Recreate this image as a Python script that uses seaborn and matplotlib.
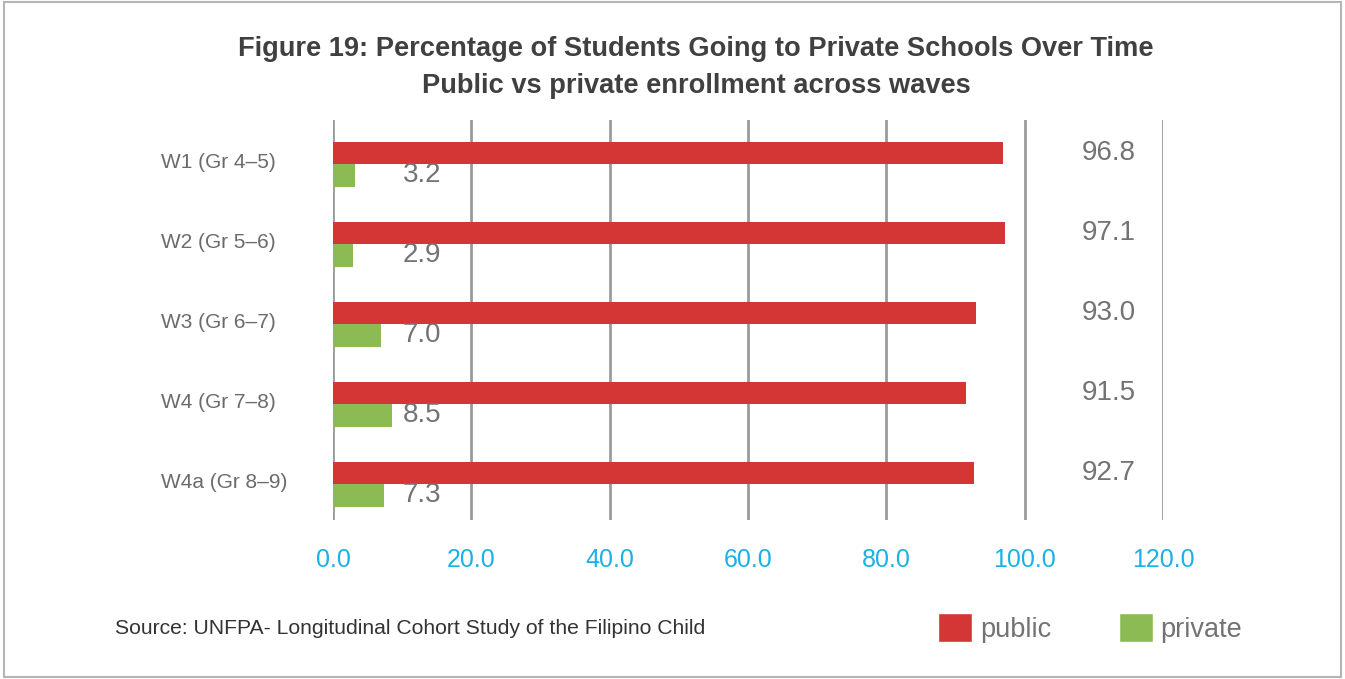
import matplotlib
matplotlib.use("Agg")
import matplotlib.pyplot as plt
from matplotlib.patches import Patch, Rectangle
from matplotlib.transforms import ScaledTranslation
import pandas as pd
import seaborn as sns

waves = ['W1 (Gr 4–5)', 'W2 (Gr 5–6)', 'W3 (Gr 6–7)', 'W4 (Gr 7–8)', 'W4a (Gr 8–9)']
public = [96.8, 97.1, 93.0, 91.5, 92.7]
private = [3.2, 2.9, 7.0, 8.5, 7.3]
x_ticks = [0, 20, 40, 60, 80, 100, 120]

red = '#D43535'
green = '#8CBB54'
grey_txt = '#737373'

df = pd.DataFrame({'wave': waves * 2,
                   'pct': public + private,
                   'type': ['public'] * 5 + ['private'] * 5})

sns.set_style('white')
plt.rcParams['font.family'] = ['Liberation Sans', 'DejaVu Sans']

fig = plt.figure(figsize=(13.45, 6.79), dpi=100)
ax = fig.add_axes([0.2476, 0.234, 0.6171, 0.589])

sns.barplot(data=df, y='wave', x='pct', hue='type', orient='h',
            palette={'public': red, 'private': green}, width=0.56,
            saturation=1, legend=False, linewidth=0, ax=ax)

ax.set_xlim(0, 120)
ax.set_ylim(4.45, -0.55)
ax.set_xticks(x_ticks)
ax.set_xticklabels([f'{t:.1f}' for t in x_ticks], color='#1BB1E7', fontsize=18)
ax.xaxis.grid(True, color='#9a9a9a', linewidth=2)
ax.set_axisbelow(True)
for s in ax.spines.values():
    s.set_visible(False)
ax.tick_params(axis='x', length=0, pad=20)
ax.tick_params(axis='y', length=0, pad=124)
shift = ScaledTranslation(0, 4 / 100, fig.dpi_scale_trans)
for lab in ax.get_yticklabels():
    lab.set_horizontalalignment('left')
    lab.set_color('#6b6b6b')
    lab.set_fontsize(15)
    lab.set_transform(lab.get_transform() + shift)
ax.set_xlabel('')
ax.set_ylabel('')

# value labels
for i, (pub, pri) in enumerate(zip(public, private)):
    ax.text(112.2, i - 0.14, f'{pub:.1f}', ha='center', va='center',
            fontsize=20, color=grey_txt)
    ax.text(12.9, i + 0.13, f'{pri:.1f}', ha='center', va='center',
            fontsize=20, color=grey_txt)

fig.text(0.5175, 0.928, 'Figure 19: Percentage of Students Going to Private Schools Over Time',
         ha='center', va='center', fontsize=19.6, fontweight='bold', color='#404040')
fig.text(0.5175, 0.873, 'Public vs private enrollment across waves',
         ha='center', va='center', fontsize=19.6, fontweight='bold', color='#404040')

fig.text(0.0855, 0.075, 'Source: UNFPA- Longitudinal Cohort Study of the Filipino Child',
         ha='left', va='center', fontsize=15.2, color='#333333')

handles = [Patch(facecolor=red, label='public'), Patch(facecolor=green, label='private')]
leg = fig.legend(handles=handles, loc='center', bbox_to_anchor=(0.8105, 0.075), ncol=2,
                 frameon=False, fontsize=19.5, handlelength=1.25, handleheight=1.25,
                 columnspacing=2.5, handletextpad=0.3)
for t in leg.get_texts():
    t.set_color(grey_txt)

fig.patches.append(Rectangle((0.003, 0.003), 0.994, 0.994, transform=fig.transFigure,
                             fill=False, edgecolor='#b5b5b5', linewidth=1.5))

fig.savefig('out.png', dpi=100)
